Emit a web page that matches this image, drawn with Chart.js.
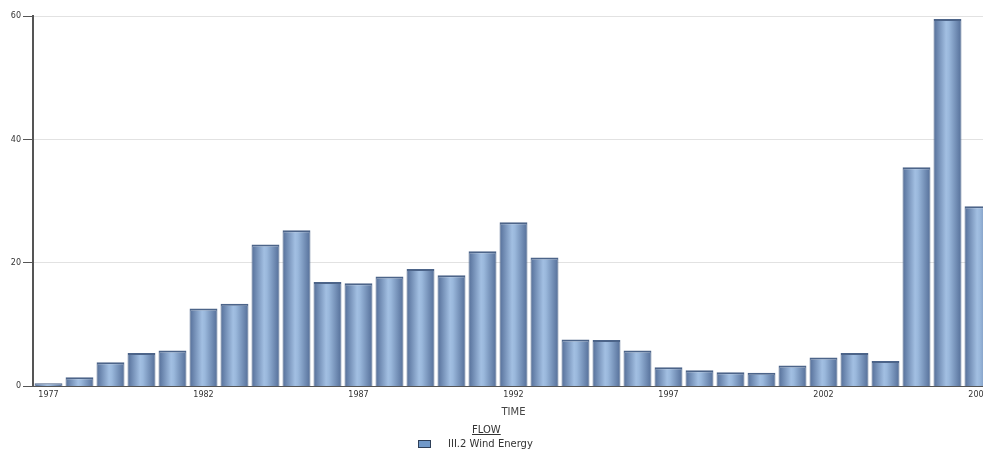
<!DOCTYPE html>
<html>
<head>
<meta charset="utf-8">
<script src="https://cdn.jsdelivr.net/npm/chart.js@4/dist/chart.umd.min.js"></script>
<style>
    html, body { margin: 0; padding: 0; background: #fff; overflow: hidden; }
    #wrap { position: relative; width: 983px; height: 451px; overflow: hidden; }
    #chart { position: absolute; left: 0; top: 0; }
    .legend { position: absolute; font-family: "DejaVu Sans", sans-serif; color: #333; }
    #legend-title { left: 472px; top: 424px; font-size: 10px; text-decoration: underline; }
    #legend-item { left: 418px; top: 438px; font-size: 10px; display: flex; align-items: center; }
    #legend-item .swatch { width: 11px; height: 6px; background: #7199c9; border: 1px solid #2e3f58; margin-right: 17px; }
</style>
</head>
<body>
<div id="wrap">
    <canvas id="chart" width="995" height="451"></canvas>
    <div class="legend" id="legend-title">FLOW</div>
    <div class="legend" id="legend-item"><span class="swatch"></span>III.2 Wind Energy</div>
</div>
<script>
// data
const years = [
    '1977', '1978', '1979', '1980', '1981', '1982', '1983', '1984', '1985', '1986',
    '1987', '1988', '1989', '1990', '1991', '1992', '1993', '1994', '1995', '1996',
    '1997', '1998', '1999', '2000', '2001', '2002', '2003', '2004', '2005', '2006', '2007'
];
const windEnergy = [
    0.5, 1.5, 3.9, 5.4, 5.8, 12.6, 13.4, 23.0, 25.3, 16.9,
    16.7, 17.8, 19.0, 18.0, 21.9, 26.6, 20.9, 7.6, 7.5, 5.8,
    3.1, 2.6, 2.3, 2.2, 3.4, 4.7, 5.4, 4.1, 35.5, 59.5, 29.2
];
const yTicks = [0, 20, 40, 60];
const seriesLabel = 'III.2 Wind Energy';
const font = '"DejaVu Sans", sans-serif';

// horizontal "cylinder" shading for each bar
function barGradient(ctx) {
    const chart = ctx.chart;
    const xScale = chart.scales.x;
    if (!xScale || ctx.dataIndex === undefined) return '#7a9cc6';
    const cx = xScale.getPixelForValue(ctx.dataIndex);
    if (!Number.isFinite(cx)) return '#7a9cc6';
    const half = 14;
    const g = chart.ctx.createLinearGradient(cx - half, 0, cx + half, 0);
    g.addColorStop(0, '#546e98');
    g.addColorStop(0.45, '#a2bfe2');
    g.addColorStop(0.55, '#9ab8dc');
    g.addColorStop(1, '#546e98');
    return g;
}

new Chart(document.getElementById('chart'), {
    type: 'bar',
    data: {
        labels: years,
        datasets: [{
            label: seriesLabel,
            data: windEnergy,
            backgroundColor: barGradient,
            borderColor: '#4c6489',
            borderWidth: { top: 2, left: 1, right: 1, bottom: 0 },
            barPercentage: 0.9,
            categoryPercentage: 1.0
        }]
    },
    options: {
        responsive: false,
        animation: false,
        layout: { padding: { top: 16, right: 1, left: 0, bottom: 33 } },
        plugins: {
            legend: { display: false },
            tooltip: { enabled: false }
        },
        scales: {
            x: {
                grid: { display: false, drawTicks: false },
                border: { color: '#555', width: 1 },
                ticks: {
                    autoSkip: false,
                    maxRotation: 0,
                    padding: 4,
                    color: '#333',
                    font: { family: font, size: 8 },
                    callback: (v, i) => (i % 5 === 0 ? years[i] : '')
                },
                title: {
                    display: true,
                    text: 'TIME',
                    color: '#444',
                    padding: { top: 2, bottom: 0 },
                    font: { family: font, size: 10 }
                }
            },
            y: {
                min: 0,
                max: 60,
                afterBuildTicks: (s) => { s.ticks = yTicks.map(v => ({ value: v })); },
                grid: { color: '#e2e2e2', tickColor: '#555', tickLength: 10 },
                border: { color: '#555', width: 2 },
                ticks: {
                    padding: 2,
                    color: '#333',
                    font: { family: font, size: 8 }
                },
                afterFit: (s) => { s.width = 33; }
            }
        }
    }
});
</script>
</body>
</html>
